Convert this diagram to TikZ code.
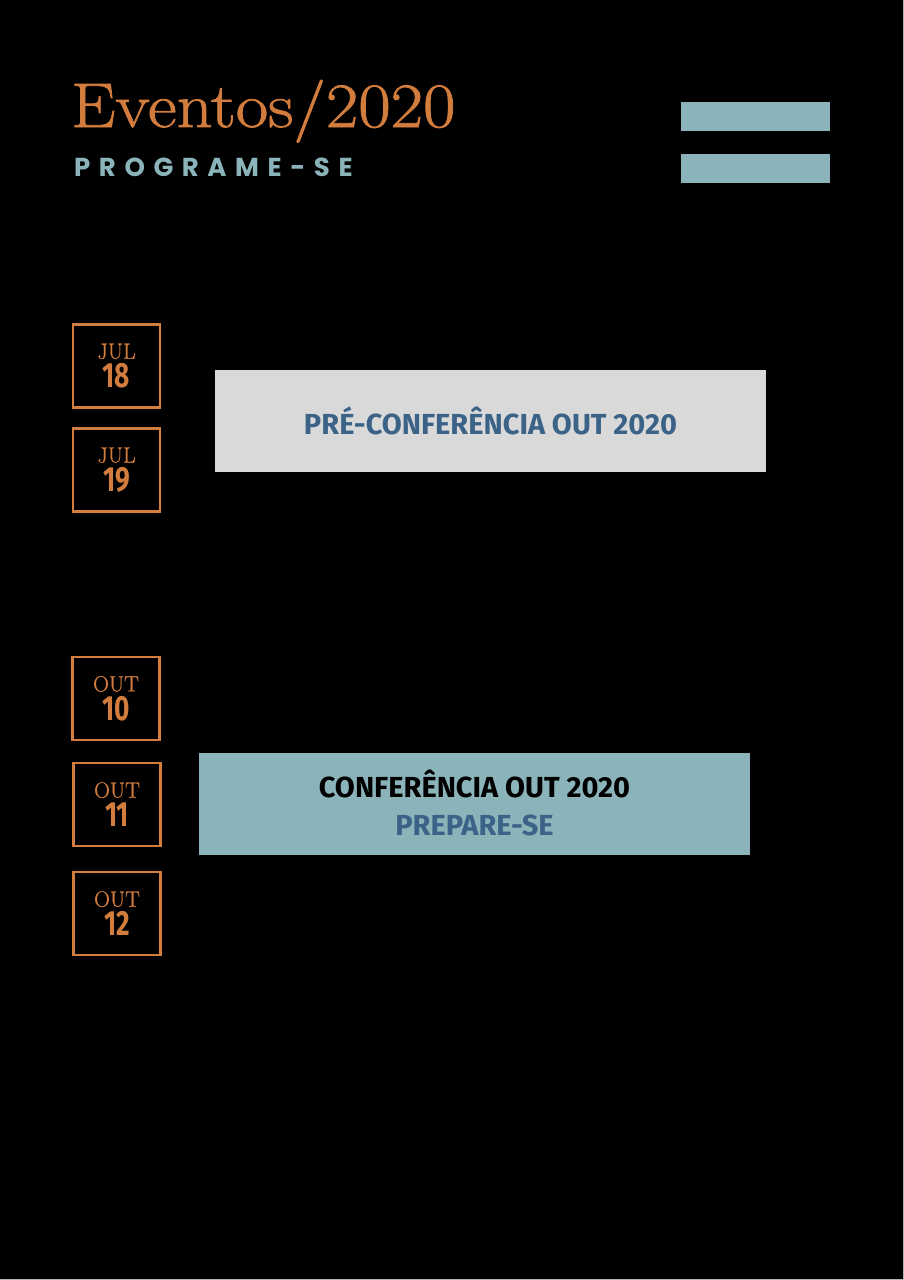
\documentclass[tikz,border=0pt]{standalone}
\usepackage{fontspec}
\usepackage{tikz}
\usetikzlibrary{positioning}
\newfontfamily\titlefamily[FakeBold=1.2, FakeStretch=1.12]{Latin Modern Roman}
\newfontfamily\monthfamily[FakeBold=0.8]{Latin Modern Roman}
\newfontfamily\spacedfont[LetterSpace=33]{Poppins}
\newfontfamily\dayfamily[FakeStretch=0.75]{Fira Sans}
\newfontfamily\bannerfamily{Fira Sans}
\definecolor{rust}{HTML}{D27D3E}
\definecolor{sea}{HTML}{8AB3BA}
\definecolor{paper}{HTML}{D9D9D9}
\definecolor{ink}{HTML}{3B6388}
\newcommand{\dayfont}{\dayfamily\bfseries\fontsize{35}{29}\selectfont}
\tikzstyle{datebox} = [draw=rust, line width=2.2pt, minimum width=87pt, minimum height=83pt, inner sep=0pt, align=center, text=rust, font=\monthfamily\fontsize{22}{29}\selectfont]
\tikzstyle{banner} = [minimum width=551pt, minimum height=102pt, inner sep=0pt, align=center, font=\bannerfamily\bfseries\fontsize{29}{38}\selectfont]
\tikzstyle{bar} = [fill=sea, minimum width=149pt, minimum height=29pt, inner sep=0pt]

\begin{document}
\begin{tikzpicture}[x=1pt, y=-1pt]
  \useasboundingbox (0,0) rectangle (904,1280);
  \fill[gray!60] (0,0) rectangle (904,1280);
  \fill[black] (0,0) rectangle (902.5,1278.5);
  % heading
  \node[anchor=base west, inner sep=0pt, text=rust, font=\titlefamily\fontsize{63}{63}\selectfont] (title) at (71,127) {Eventos/2020};
  \node[anchor=base west, inner sep=0pt, text=sea, font=\spacedfont\bfseries\fontsize{26}{26}\selectfont] (sub) at (74,176) {PROGRAME-SE};
  \node[bar] (bar1) at (755.5,116.5) {};
  \node[bar, below=23pt of bar1] (bar2) {};
  % dates
  \foreach \n/\x/\y/\m/\d in {d18/116.5/366/JUL/18, d19/116.5/470/JUL/19, d10/116/698.5/OUT/10, d11/117/804.5/OUT/11, d12/117/913.5/OUT/12}
    \node[datebox] (\n) at (\x,\y) {\m\\\dayfont\d};
  % events
  \node[banner, fill=paper, text=ink] (pre) at (490.5,421) {PRÉ-CONFERÊNCIA OUT 2020};
  \node[banner, fill=sea] (conf) at (474.5,804) {\raisebox{2pt}{CONFERÊNCIA OUT 2020}\\\raisebox{2pt}{\textcolor{ink}{PREPARE-SE}}};
\end{tikzpicture}
\end{document}
